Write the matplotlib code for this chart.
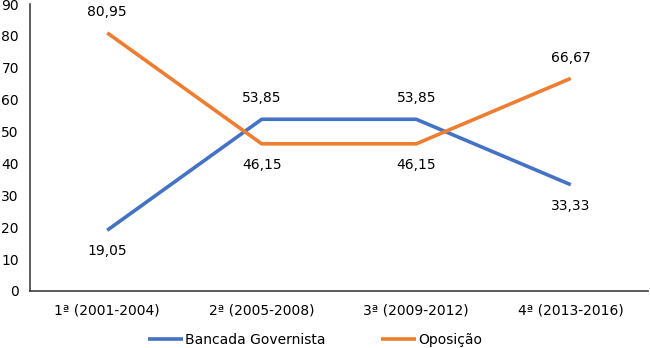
import matplotlib
matplotlib.use("Agg")
import matplotlib.pyplot as plt

plt.rcParams['font.family'] = ['DejaVu Sans']

categorias = ['1ª (2001-2004)', '2ª (2005-2008)', '3ª (2009-2012)', '4ª (2013-2016)']
governista = [19.05, 53.85, 53.85, 33.33]
oposicao = [80.95, 46.15, 46.15, 66.67]
# posição do rótulo: acima (+) ou abaixo (-) do ponto
pos_gov = [-1, 1, 1, -1]
pos_opo = [1, -1, -1, 1]

AZUL = '#4472C4'
LARANJA = '#ED7D31'


def fmt(v):
    return f"{v:.2f}".replace('.', ',')


fig = plt.figure(figsize=(6.5, 3.48), dpi=100)
ax = fig.add_axes([30 / 650, 1 - 291 / 348, 618 / 650, 287 / 348])

x = range(len(categorias))
ax.plot(x, governista, color=AZUL, lw=2.6, label='Bancada Governista', solid_capstyle='butt')
ax.plot(x, oposicao, color=LARANJA, lw=2.6, label='Oposição', solid_capstyle='butt')

for xs, ys, ps in [(x, governista, pos_gov), (x, oposicao, pos_opo)]:
    for xi, yi, p in zip(xs, ys, ps):
        ax.annotate(fmt(yi), (xi, yi), xytext=(0, 15 * p), textcoords='offset points',
                    ha='center', va='center', fontsize=10, color='#000000')

ax.set_xlim(-0.5, 3.5)
ax.set_ylim(0, 90)
ax.set_yticks(range(0, 91, 10))
ax.set_xticks(list(x))
ax.set_xticklabels(categorias)
ax.tick_params(axis='both', length=0, labelsize=10)
ax.tick_params(axis='y', pad=8)
ax.tick_params(axis='x', pad=9)

for s in ['top', 'right']:
    ax.spines[s].set_visible(False)
for s in ['left', 'bottom']:
    ax.spines[s].set_color('#404040')
    ax.spines[s].set_linewidth(1.2)

fig.legend(loc='center', bbox_to_anchor=(0.485, 1 - 340 / 348), ncol=2, frameon=False,
           fontsize=10, handlelength=2.5, handletextpad=0.15, columnspacing=4.0)

fig.savefig('out.png', dpi=100)
